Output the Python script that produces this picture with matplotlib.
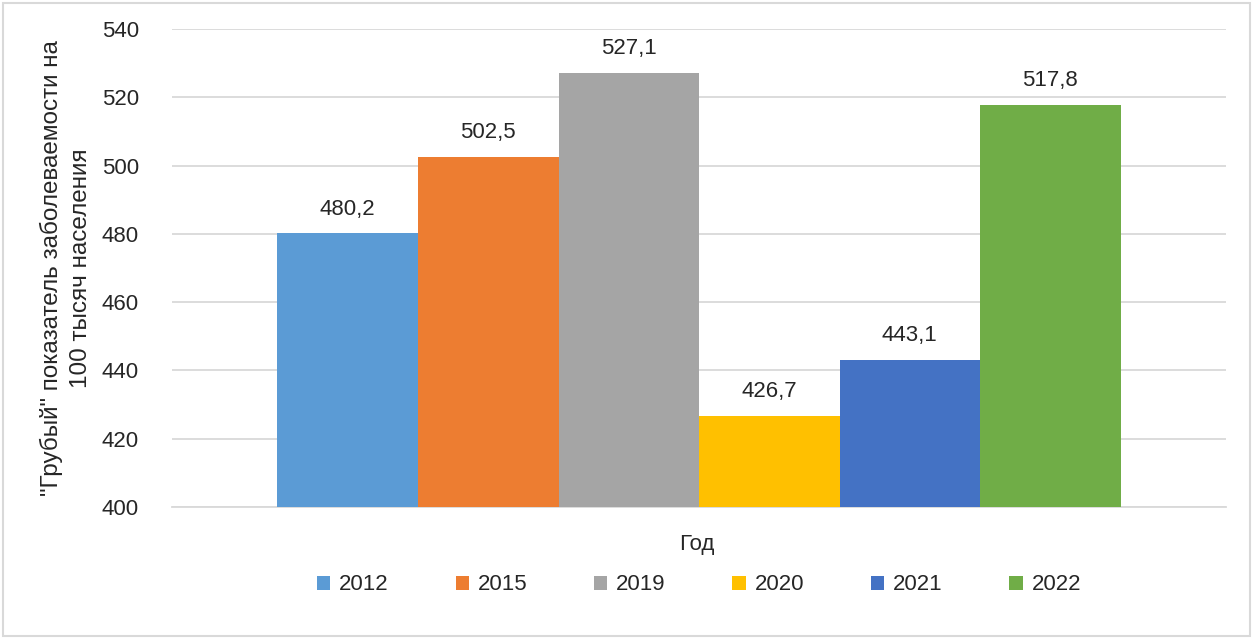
import matplotlib.pyplot as plt
import numpy as np

plt.rcParams['font.family'] = ['Liberation Sans', 'DejaVu Sans']

years = ['2012', '2015', '2019', '2020', '2021', '2022']
values = [480.2, 502.5, 527.1, 426.7, 443.1, 517.8]
colors = ['#5B9BD5', '#ED7D31', '#A5A5A5', '#FFC000', '#4472C4', '#70AD47']
category = 'Год'
y_ticks = [400, 420, 440, 460, 480, 500, 520, 540]

fig = plt.figure(figsize=(12.54, 6.38), dpi=100)
ax = fig.add_axes([0.1372, 0.2053, 0.8405, 0.7492])

n = len(values)
width = 0.8 / n
offsets = (np.arange(n) - (n - 1) / 2) * width
for i in range(n):
    ax.bar(offsets[i], values[i] - 400, bottom=400, width=width,
           color=colors[i], label=years[i], zorder=3)
    ax.text(offsets[i], values[i] + 4, f"{values[i]:.1f}".replace('.', ','),
            ha='center', va='bottom', fontsize=16, color='#262626')

ax.set_xlim(-0.5, 0.5)
ax.set_ylim(400, 540)
ax.set_yticks(y_ticks)
ax.set_xticks([])
ax.tick_params(axis='y', length=0, pad=24, labelsize=16, labelcolor='#262626')
ax.grid(axis='y', color='#D9D9D9', linewidth=1.3, zorder=0)
for s in ['top', 'right', 'left']:
    ax.spines[s].set_visible(False)
ax.spines['bottom'].set_color('#D9D9D9')
ax.spines['bottom'].set_linewidth(1.3)

ax.set_ylabel('"Грубый" показатель заболеваемости на\n100 тысяч населения',
              fontsize=17.5, color='#262626', labelpad=7, linespacing=1.4)
fig.text(0.5558, 0.147, category, ha='center', va='center', fontsize=16, color='#262626')

ax.legend(loc='center', bbox_to_anchor=(0.5, -0.163), ncol=n, frameon=False,
          fontsize=16, handlelength=0.6, handleheight=0.6, handletextpad=0.4,
          columnspacing=3.0, labelcolor='#262626')

fig.patches.append(plt.Rectangle((0.002, 0.003), 0.995, 0.993, transform=fig.transFigure,
                                 fill=False, edgecolor='#D9D9D9', linewidth=1.5))

fig.savefig('out.png', dpi=100)
